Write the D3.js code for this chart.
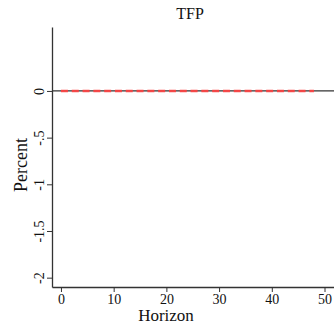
<!DOCTYPE html>
<html>
<head>
<meta charset="utf-8">
<script src="https://cdn.jsdelivr.net/npm/d3@7"></script>
<style>
  body { margin: 0; background: #fff; }
  svg { display: block; font-family: "Liberation Serif", "DejaVu Serif", serif; }
</style>
</head>
<body>
<div id="chart"></div>
<script>
// IRF of TFP, horizons 0..48 (flat at zero)
const horizon = d3.range(0, 49);
const response = horizon.map(() => 0);
const xTicks = [0, 10, 20, 30, 40, 50];
const yTicks = [0, -0.5, -1, -1.5, -2];
const yTickLabels = ['0', '-.5', '-1', '-1.5', '-2'];

const width = 334, height = 326;
const margin = { left: 52, right: 0, top: 27, bottom: 39 };

const x = d3.scaleLinear().domain([-1.7, 51.8]).range([margin.left, width - margin.right]);
const y = d3.scaleLinear().domain([-2.1, 0.685]).range([height - margin.bottom, margin.top]);

const svg = d3.select('#chart').append('svg')
  .attr('width', width).attr('height', height);

// title
svg.append('text').attr('x', 190).attr('y', 19)
  .attr('text-anchor', 'middle').style('font-size', '16px').attr('fill', '#111').text('TFP');

// zero reference line
svg.append('line')
  .attr('x1', margin.left).attr('x2', width)
  .attr('y1', y(0)).attr('y2', y(0))
  .attr('stroke', '#333').attr('stroke-width', 1.3);

// response line
svg.append('path')
  .datum(horizon.map((h, i) => [h, response[i]]))
  .attr('fill', 'none')
  .attr('stroke', '#ff4040').attr('stroke-opacity', 0.9)
  .attr('stroke-width', 2.6)
  .attr('stroke-dasharray', '7,3.8')
  .attr('d', d3.line().x(d => x(d[0])).y(d => y(d[1])));

// x axis
const gx = svg.append('g').attr('transform', `translate(0,${height - margin.bottom})`)
  .call(d3.axisBottom(x).tickValues(xTicks).tickSize(5).tickPadding(2).tickSizeOuter(0));
gx.select('.domain').attr('stroke', '#333').attr('stroke-width', 1.3);
gx.selectAll('.tick line').attr('stroke', '#333');
gx.selectAll('.tick text').style('font-size', '14px').attr('fill', '#111')
  .style('font-family', '"Liberation Serif", serif');

// y axis
const gy = svg.append('g').attr('transform', `translate(${margin.left},0)`)
  .call(d3.axisLeft(y).tickValues(yTicks).tickFormat((d, i) => yTickLabels[i]).tickSize(5).tickSizeOuter(0));
gy.select('.domain').attr('stroke', '#333').attr('stroke-width', 1.3);
gy.selectAll('.tick line').attr('stroke', '#333');
gy.selectAll('.tick text')
  .style('font-size', '14px').attr('fill', '#111')
  .style('font-family', '"Liberation Serif", serif')
  .attr('text-anchor', 'middle')
  .attr('x', 0).attr('dy', 0)
  .attr('transform', 'translate(-13,0) rotate(-90)')
  .attr('dominant-baseline', 'central');

// axis titles
svg.append('text').attr('x', 166).attr('y', 321)
  .attr('text-anchor', 'middle').style('font-size', '17px').attr('fill', '#111').text('Horizon');
svg.append('text')
  .attr('transform', `translate(21,${(margin.top + height - margin.bottom) / 2 + 8}) rotate(-90)`)
  .attr('text-anchor', 'middle').attr('dy', '0.35em').style('font-size', '18px').attr('fill', '#111').text('Percent');
</script>
</body>
</html>
